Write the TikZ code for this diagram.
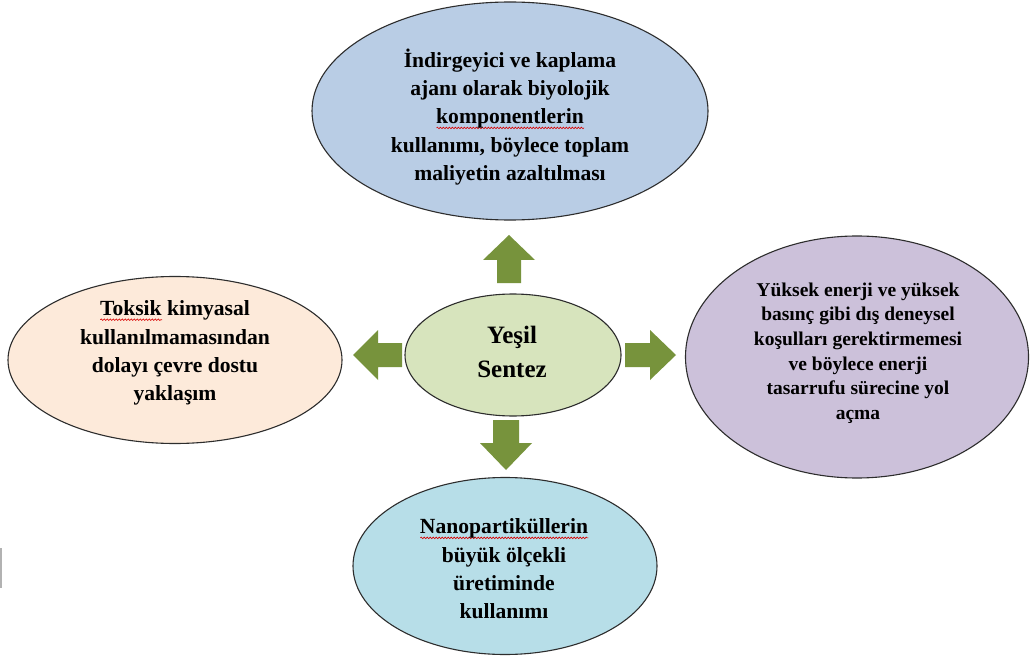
\documentclass[tikz,border=0pt]{standalone}
\usepackage{fontspec}
\setmainfont{Liberation Serif}
\usetikzlibrary{shapes.geometric,decorations.pathmorphing}
\definecolor{topfill}{RGB}{185,205,229}
\definecolor{midfill}{RGB}{215,228,189}
\definecolor{leftfill}{RGB}{253,234,218}
\definecolor{rightfill}{RGB}{204,193,218}
\definecolor{botfill}{RGB}{183,222,232}
\definecolor{arrowgreen}{RGB}{119,147,60}
\definecolor{outline}{RGB}{45,45,45}
\newsavebox{\spellbox}
\newcommand{\spell}[1]{\sbox{\spellbox}{#1}\rlap{\tikz[baseline=0pt]\draw[red!85!black, line width=0.6pt, decorate, decoration={snake, amplitude=0.8pt, segment length=3pt}] (0pt,-4pt) -- (\the\wd\spellbox,-4pt);}\usebox{\spellbox}}
\begin{document}
\begin{tikzpicture}[x=1pt,y=-1pt,
  bubble/.style={ellipse, draw=outline, line width=1.1pt, inner sep=0pt},
  bubbletext/.style={align=center, text=black, font=\bfseries\fontsize{21.6}{28.3}\selectfont},
  blockarrow/.style={fill=arrowgreen, draw=none}]
\useasboundingbox (0,0) rectangle (1030,660);
\fill[white] (0,0) rectangle (1030,660);

% ellipses
\node[bubble, fill=topfill, minimum width=396pt, minimum height=218pt] (topE) at (510,111) {};
\node[bubble, fill=midfill, minimum width=216pt, minimum height=122pt] (midE) at (513,355) {};
\node[bubble, fill=leftfill, minimum width=334pt, minimum height=167pt] (leftE) at (175,360) {};
\node[bubble, fill=rightfill, minimum width=343pt, minimum height=242pt] (rightE) at (857,357) {};
\node[bubble, fill=botfill, minimum width=304pt, minimum height=177pt] (botE) at (505,566) {};

% texts
\node[bubbletext] (topT) at (510,117) {İndirgeyici ve kaplama\\ajanı olarak biyolojik\\\spell{komponentlerin}\\kullanımı, böylece toplam\\maliyetin azaltılması};
\node[bubbletext, font=\bfseries\fontsize{25}{34}\selectfont] (midT) at (512,352) {Yeşil\\Sentez};
\node[bubbletext] (leftT) at (175,353) {\spell{Toksik} kimyasal\\kullanılmamasından\\dolayı çevre dostu\\yaklaşım};
\node[bubbletext, font=\bfseries\fontsize{19.5}{24.7}\selectfont] (rightT) at (858,353) {Yüksek enerji ve yüksek\\basınç gibi dış deneysel\\koşulları gerektirmemesi\\ve böylece enerji\\tasarrufu sürecine yol\\açma};
\node[bubbletext] (botT) at (504,569) {\spell{Nanopartiküllerin}\\büyük ölçekli\\üretiminde\\kullanımı};

% block arrows
\fill[blockarrow] (509,235) -- (535,260) -- (521,260) -- (521,283) -- (497,283) -- (497,260) -- (483,260) -- cycle;
\fill[blockarrow] (506,470) -- (532,443) -- (519,443) -- (519,420) -- (493,420) -- (493,443) -- (480,443) -- cycle;
\fill[blockarrow] (353,355) -- (378,330) -- (378,343) -- (402,343) -- (402,367) -- (378,367) -- (378,380) -- cycle;
\fill[blockarrow] (676,355) -- (650,330) -- (650,343) -- (625,343) -- (625,367) -- (650,367) -- (650,380) -- cycle;

% edge artifact
\draw[gray!60, line width=1.5pt] (1,548) -- (1,588);
\end{tikzpicture}
\end{document}
